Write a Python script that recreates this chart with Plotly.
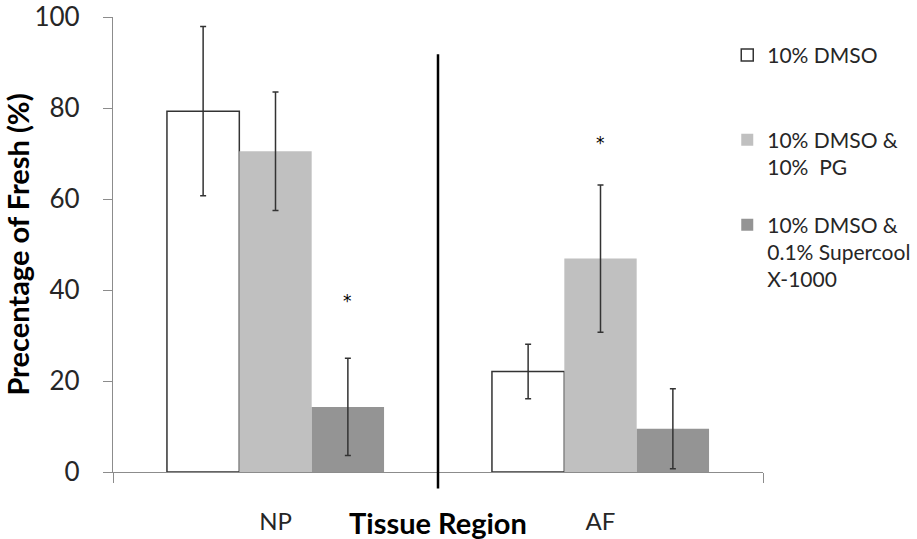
import plotly.graph_objects as go

categories = ["NP", "AF"]
series_names = ["10% DMSO", "10% DMSO &<br>10%  PG", "10% DMSO &<br>0.1% Supercool<br>X-1000"]
dmso = [79.3, 22.1]
dmso_err = [18.6, 6.0]
dmso_pg = [70.5, 46.9]
dmso_pg_err = [13.0, 16.2]
dmso_sc = [14.3, 9.5]
dmso_sc_err = [10.7, 8.8]
# significance markers: (category, series index, marker height)
stars = [("NP", 2, 37.5), ("AF", 1, 72.3)]
y_ticks = [0, 20, 40, 60, 80, 100]

FONT = "Lato"
TXT = "#262626"
colors = ["#FFFFFF", "#C0C0C0", "#949494"]
values = [dmso, dmso_pg, dmso_sc]
errors = [dmso_err, dmso_pg_err, dmso_sc_err]

# pad legend labels to three lines so entries sit on an even pitch
def pad(name, lines=3):
    n = name.count("<br>") + 1
    return name + "<br>\u00a0" * (lines - n)

fig = go.Figure()
for i in range(3):
    fig.add_trace(go.Bar(
        x=categories, y=values[i], name=pad(series_names[i]),
        marker=dict(color=colors[i],
                    line=dict(color="#333333" if i == 0 else colors[i], width=1.5 if i == 0 else 0)),
        error_y=dict(type="data", array=errors[i], color="#333333", thickness=1.5, width=3),
    ))

bar_w = (1 - 0.332) / 3
for cat, si, h in stars:
    idx = categories.index(cat)
    fig.add_annotation(x=idx + (si - 1) * bar_w, y=h, xref="x", yref="y", text="*",
                       showarrow=False, font=dict(family="DejaVu Sans", size=17, color="black"))

# vertical divider between the two tissue regions
fig.add_shape(type="line", xref="x", yref="paper", x0=0.5, x1=0.5, y0=-0.036, y1=0.918,
              line=dict(color="black", width=2.5))

fig.add_annotation(text="<b>Tissue Region</b>", xref="paper", yref="paper", x=0.5, y=-0.11,
                   xanchor="center", yanchor="middle", showarrow=False,
                   font=dict(family=FONT, size=29, color="black"))

fig.update_layout(
    width=917, height=539,
    margin=dict(l=113, r=154, t=17, b=67, autoexpand=False),
    paper_bgcolor="white", plot_bgcolor="white",
    barmode="group", bargap=0.332, bargroupgap=0,
    font=dict(family=FONT, color=TXT),
    showlegend=True,
    legend=dict(x=0.945, y=0.961, xanchor="left", yanchor="top", valign="top",
                font=dict(family=FONT, size=21, color=TXT),
                bgcolor="rgba(0,0,0,0)", traceorder="normal"),
    xaxis=dict(type="category", tickson="boundaries", ticks="outside", ticklen=10,
               tickcolor="#8c8c8c", showline=True, linecolor="#8c8c8c", linewidth=1.2,
               showgrid=False, zeroline=False, tickfont=dict(family=FONT, size=24, color=TXT),
               ticklabelstandoff=28, automargin=False),
    yaxis=dict(range=[0, 100], tickvals=y_ticks, ticks="outside", ticklen=9,
               tickcolor="#8c8c8c", showline=True, linecolor="#8c8c8c", linewidth=1.2,
               showgrid=False, zeroline=False, tickfont=dict(family=FONT, size=26, color=TXT),
               ticklabelstandoff=18, automargin=False,
               title=dict(text="<b>Precentage of Fresh (%)</b>", standoff=6,
                          font=dict(family=FONT, size=29, color="black"))),
)

fig.write_html("out.html", config={"displayModeBar": False},
               post_script="document.body.style.margin='0';document.body.style.overflow='hidden';")
